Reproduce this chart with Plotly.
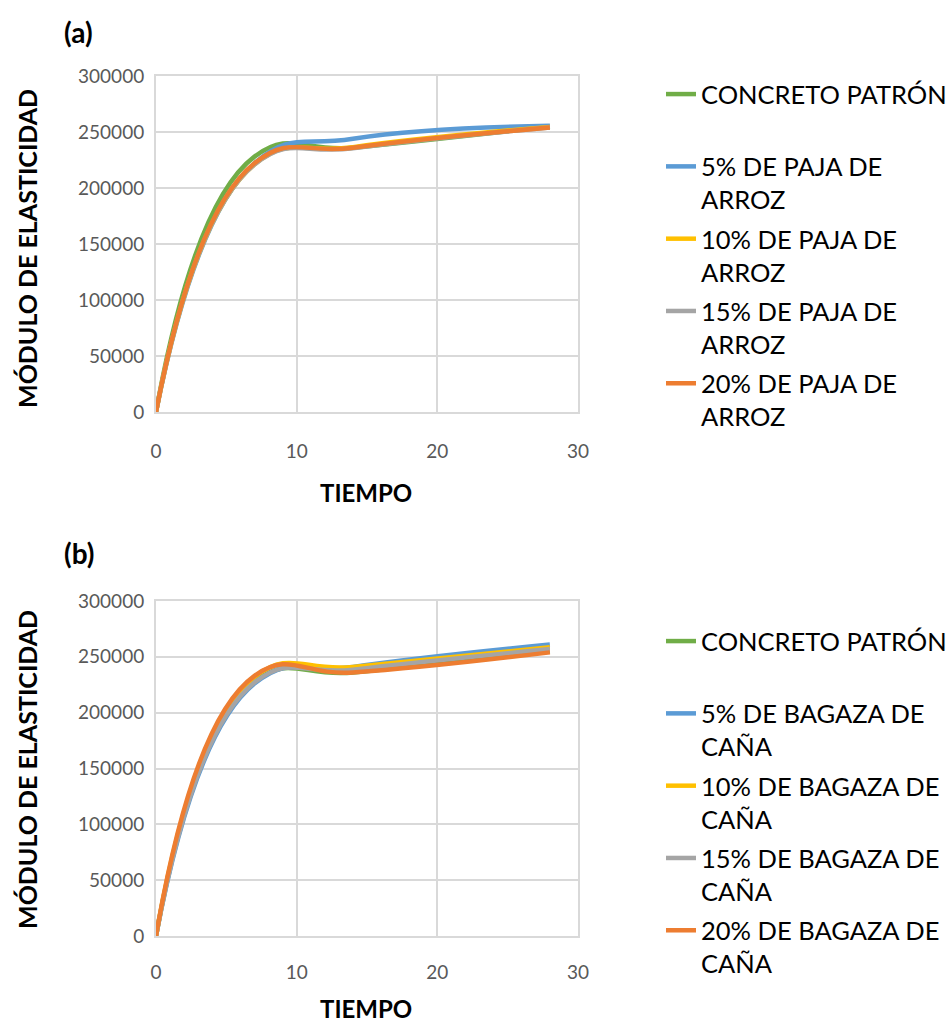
import plotly.graph_objects as go

# Edad del concreto (días) y módulo de elasticidad de cada mezcla
dias = [0, 7, 14, 28]

patron = [0, 228000, 236000, 255000]

paja_5 = [0, 222000, 244000, 255500]
paja_10 = [0, 221000, 236500, 254500]
paja_15 = [0, 221000, 235500, 254000]
paja_20 = [0, 222000, 236000, 254000]

bagazo_5 = [0, 226000, 241000, 261000]
bagazo_10 = [0, 232000, 241000, 258500]
bagazo_15 = [0, 227000, 238500, 257000]
bagazo_20 = [0, 233000, 236000, 254000]

nombres_a = ["CONCRETO PATRÓN<br> ", "5% DE PAJA DE<br>ARROZ", "10% DE PAJA DE<br>ARROZ",
             "15% DE PAJA DE<br>ARROZ", "20% DE PAJA DE<br>ARROZ"]
nombres_b = ["CONCRETO PATRÓN<br> ", "5% DE BAGAZA DE<br>CAÑA", "10% DE BAGAZA DE<br>CAÑA",
             "15% DE BAGAZA DE<br>CAÑA", "20% DE BAGAZA DE<br>CAÑA"]

colores = ["#70AD47", "#5B9BD5", "#FFC000", "#A5A5A5", "#ED7D31"]

series_a = [patron, paja_5, paja_10, paja_15, paja_20]
series_b = [patron, bagazo_5, bagazo_10, bagazo_15, bagazo_20]

FONT = "Lato"
GRID = "#D9D9D9"
TICK = "#595959"

fig = go.Figure()

for i, (nombre, valores, color) in enumerate(zip(nombres_a, series_a, colores)):
    fig.add_trace(go.Scatter(
        x=dias, y=valores, name=nombre, mode="lines",
        line=dict(color=color, width=4.5, shape="spline", smoothing=1.3),
        xaxis="x", yaxis="y", legend="legend", legendgroup=f"a{i}",
    ))

for i, (nombre, valores, color) in enumerate(zip(nombres_b, series_b, colores)):
    fig.add_trace(go.Scatter(
        x=dias, y=valores, name=nombre, mode="lines",
        line=dict(color=color, width=4.5, shape="spline", smoothing=1.3),
        xaxis="x2", yaxis="y2", legend="legend2", legendgroup=f"b{i}",
    ))

W, H = 949, 1025


def px_x(p):
    return p / W


def px_y(p):
    return 1 - p / H


def eje_x(anchor, standoff):
    return dict(
        range=[0, 30], dtick=10, domain=[px_x(156), px_x(578)],
        showgrid=True, gridcolor=GRID, gridwidth=2,
        showline=True, linecolor=GRID, linewidth=2, mirror=True,
        zeroline=False, ticks="", ticklabelstandoff=standoff,
        tickfont=dict(family=FONT, size=19, color=TICK),
        automargin=False, anchor=anchor,
    )


def eje_y(dominio, anchor):
    return dict(
        range=[0, 300000], dtick=50000, domain=dominio,
        showgrid=True, gridcolor=GRID, gridwidth=2,
        showline=True, linecolor=GRID, linewidth=2, mirror=True,
        zeroline=False, ticks="", ticklabelstandoff=6,
        tickformat="d",
        tickfont=dict(family=FONT, size=19, color=TICK),
        automargin=False, anchor=anchor,
    )


leyenda = dict(
    font=dict(family=FONT, size=25.5, color="#000000"),
    valign="top", tracegroupgap=3, itemclick=False,
    bgcolor="rgba(0,0,0,0)", xanchor="left", yanchor="top",
)


def texto(t, x, y, size, angle=0, xanchor="center"):
    return dict(text=t, x=px_x(x), y=px_y(y), xref="paper", yref="paper",
                xanchor=xanchor, yanchor="middle", showarrow=False, textangle=angle,
                font=dict(family=FONT, size=size, color="#000000"))


fig.update_layout(
    width=W, height=H,
    margin=dict(l=0, r=0, t=0, b=0, autoexpand=False),
    paper_bgcolor="white", plot_bgcolor="white",
    xaxis=eje_x("y", 21),
    yaxis=eje_y([px_y(412), px_y(76)], "x"),
    xaxis2=eje_x("y2", 18),
    yaxis2=eje_y([px_y(936), px_y(601)], "x2"),
    legend=dict(leyenda, x=px_x(661), y=px_y(71)),
    legend2=dict(leyenda, x=px_x(661), y=px_y(618)),
    annotations=[
        texto("<b>(a)</b>", 62, 32, 28, xanchor="left"),
        texto("<b>(b)</b>", 62, 553, 28, xanchor="left"),
        texto("<b>MÓDULO DE ELASTICIDAD</b>", 27, 249, 25, angle=-90),
        texto("<b>MÓDULO DE ELASTICIDAD</b>", 27, 770, 25, angle=-90),
        texto("<b>TIEMPO</b>", 366, 492, 24),
        texto("<b>TIEMPO</b>", 366, 1008, 24),
    ],
)

fig.write_html("out.html")
